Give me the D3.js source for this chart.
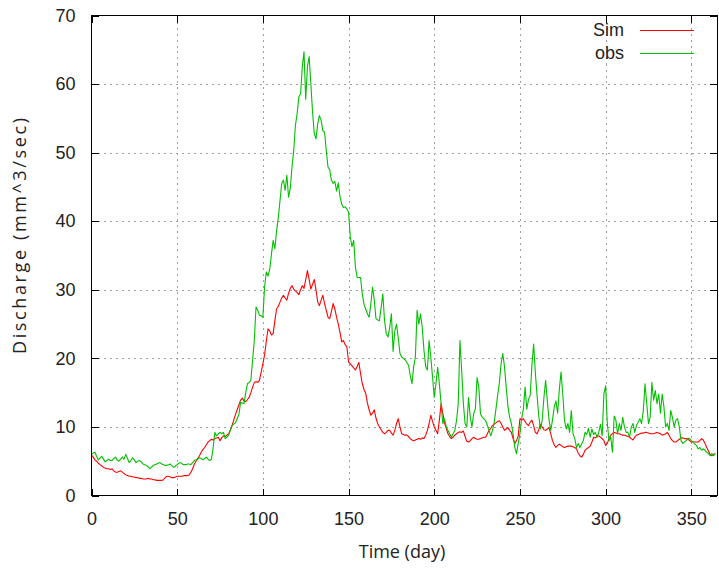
<!DOCTYPE html>
<html>
<head>
<meta charset="utf-8">
<script src="https://cdn.jsdelivr.net/npm/d3@7"></script>
<style>
  html, body { margin: 0; padding: 0; background: #fff; }
  svg { display: block; font-family: "Liberation Sans", Arial, sans-serif; }
</style>
</head>
<body>
<svg id="chart" width="719" height="569"></svg>
<script>
// Daily discharge, simulated vs observed (mm^3/sec), days 0..364
const simValues = [
  5.9, 5.6, 5.2, 5.0, 4.7, 4.5, 4.3, 4.1, 4.0, 3.9,
  3.9, 3.8, 3.9, 3.6, 3.4, 3.4, 3.5, 3.6, 3.4, 3.2,
  3.0, 2.9, 2.8, 2.8, 2.7, 2.7, 2.6, 2.6, 2.5, 2.5,
  2.4, 2.4, 2.4, 2.5, 2.4, 2.4, 2.3, 2.3, 2.2, 2.2,
  2.2, 2.2, 2.3, 2.6, 2.8, 2.8, 2.7, 2.6, 2.6, 2.7,
  2.8, 2.8, 2.8, 2.8, 2.9, 2.9, 2.9, 3.0, 3.4, 3.9,
  4.6, 5.0, 5.4, 5.8, 6.3, 6.7, 7.0, 7.4, 7.8, 8.0,
  8.2, 8.1, 8.3, 8.4, 8.5, 8.0, 8.4, 8.7, 8.6, 8.8,
  9.0, 9.5, 10.2, 11.0, 11.8, 12.5, 13.2, 13.9, 14.2, 13.8,
  13.7, 14.0, 14.3, 15.0, 15.8, 16.5, 16.6, 16.5, 16.8, 18.0,
  19.2, 20.5, 22.5, 24.3, 24.0, 23.4, 23.6, 25.5, 27.2, 27.6,
  28.2, 28.8, 29.2, 28.8, 28.5, 29.5, 30.2, 30.6, 30.1, 29.8,
  29.6, 29.3, 30.0, 30.6, 30.2, 31.5, 32.8, 31.5, 30.1, 30.8,
  31.5, 30.0, 28.2, 27.7, 28.5, 29.2, 28.0, 27.0, 26.0, 25.8,
  26.8, 28.0, 27.2, 26.0, 25.0, 23.8, 22.4, 22.6, 22.0, 21.7,
  19.5, 19.2, 18.9, 18.6, 18.3, 18.8, 19.4, 17.8, 16.3, 15.5,
  14.9, 13.5, 12.5, 11.7, 12.0, 12.5, 11.3, 10.5, 10.0, 9.6,
  9.2, 9.0, 9.2, 9.5, 9.5, 9.1, 8.8, 9.5, 10.5, 11.2,
  10.0, 9.0, 8.9, 8.8, 8.8, 8.6, 8.3, 8.1, 8.0, 8.1,
  8.2, 8.3, 8.2, 8.4, 8.3, 8.8, 9.5, 10.5, 11.7, 10.8,
  10.0, 9.5, 9.0, 11.0, 13.4, 12.0, 10.6, 9.8, 9.0, 8.6,
  8.3, 8.5, 8.8, 9.0, 9.2, 9.3, 9.2, 9.4, 8.6, 7.9,
  7.8, 8.0, 8.3, 8.5, 8.3, 8.2, 8.2, 8.3, 8.4, 8.5,
  8.5, 9.0, 9.5, 9.8, 10.2, 10.4, 10.6, 10.8, 10.9, 10.5,
  10.0, 9.5, 9.7, 9.9, 9.5, 9.2, 8.3, 7.6, 8.0, 8.7,
  11.2, 11.0, 11.2, 10.8, 10.4, 10.2, 10.7, 11.0, 10.2, 9.2,
  9.0, 9.6, 10.4, 10.0, 9.6, 9.5, 9.7, 9.9, 9.0, 8.0,
  7.4, 7.0, 7.3, 7.5, 7.3, 7.1, 7.0, 7.1, 7.2, 7.2,
  7.2, 7.1, 7.0, 6.8, 6.2, 5.8, 5.6, 6.0, 6.6, 6.8,
  7.0, 7.2, 7.8, 8.5, 8.4, 8.6, 8.7, 8.5, 8.3, 8.0,
  7.3, 7.6, 8.3, 8.8, 9.0, 9.2, 9.1, 9.0, 9.0, 8.9,
  8.8, 8.8, 8.7, 8.6, 8.5, 8.3, 8.1, 8.5, 8.8, 8.9,
  9.0, 9.1, 9.1, 9.2, 9.2, 9.1, 9.0, 9.0, 9.0, 9.1,
  9.2, 9.1, 9.0, 8.8, 8.9, 9.0, 9.2, 8.8, 8.3, 8.0,
  7.8, 7.8, 8.0, 8.2, 8.4, 8.4, 8.3, 8.3, 8.2, 8.0,
  7.8, 7.8, 7.8, 7.8, 7.8, 8.0, 8.3, 8.1, 7.6, 7.0,
  6.5, 6.0, 5.8, 6.0, 6.1
];

const obsValues = [
  6.0, 6.2, 6.3, 5.7, 5.2, 5.5, 5.7, 5.3, 4.9, 5.1,
  5.3, 5.1, 5.1, 5.4, 5.6, 5.2, 5.0, 5.3, 5.6, 5.3,
  6.0, 5.4, 4.8, 5.1, 5.5, 5.2, 4.8, 5.0, 5.1, 4.9,
  4.6, 4.5, 4.4, 4.2, 3.9, 4.1, 4.4, 4.5, 4.6, 4.7,
  4.8, 4.6, 4.5, 4.4, 4.4, 4.5, 4.6, 4.3, 4.1, 4.3,
  4.5, 4.7, 4.8, 4.6, 4.5, 4.5, 4.6, 4.6, 4.5, 4.8,
  5.1, 5.2, 5.3, 5.5, 5.4, 5.2, 5.4, 5.6, 5.3, 5.1,
  5.3, 7.0, 9.2, 8.7, 9.0, 9.2, 9.0, 9.2, 8.3, 8.5,
  8.8, 9.5, 10.2, 10.4, 10.6, 11.2, 11.8, 13.6, 13.5, 13.4,
  15.0, 16.3, 16.5, 16.8, 19.7, 22.6, 27.5, 27.0, 26.3, 26.2,
  26.0, 30.4, 32.6, 32.0, 33.0, 35.2, 37.2, 36.0, 38.6, 40.5,
  43.0, 45.5, 46.0, 44.5, 46.7, 43.5, 44.8, 47.9, 50.3, 54.0,
  55.7, 58.1, 58.6, 62.5, 64.7, 57.8, 62.5, 64.0, 60.0, 55.9,
  52.8, 52.0, 54.2, 55.4, 54.7, 53.2, 53.0, 50.3, 47.9, 47.5,
  46.0, 45.5, 45.8, 44.4, 45.6, 43.6, 42.5, 42.0, 42.1, 41.8,
  41.3, 37.7, 36.3, 37.2, 33.3, 31.8, 31.8, 31.8, 29.4, 27.9,
  27.2, 26.5, 26.0, 27.9, 30.4, 28.5, 25.8, 25.6, 25.5, 27.4,
  29.4, 25.5, 23.6, 23.1, 24.5, 26.5, 21.0, 24.0, 25.0, 23.0,
  20.7, 20.2, 20.0, 19.8, 19.4, 19.0, 17.5, 16.3, 18.8, 20.2,
  27.0, 25.0, 26.5, 24.5, 21.2, 18.8, 18.3, 22.6, 20.2, 17.3,
  14.3, 16.3, 18.7, 16.3, 13.4, 10.5, 11.2, 10.0, 9.5, 9.0,
  8.5, 9.0, 9.5, 10.9, 13.4, 22.6, 18.3, 13.4, 10.5, 10.0,
  14.3, 11.5, 10.0, 11.9, 12.6, 17.2, 15.8, 11.9, 11.4, 11.2,
  10.9, 10.2, 9.5, 8.7, 9.5, 10.7, 12.6, 14.6, 16.4, 19.2,
  20.7, 18.8, 15.8, 13.0, 11.4, 10.5, 9.0, 7.0, 6.1, 7.6,
  9.0, 11.2, 12.6, 15.8, 12.6, 14.0, 14.6, 19.0, 22.1, 17.9,
  14.6, 11.6, 9.7, 11.0, 14.3, 16.8, 13.8, 11.0, 9.5, 11.0,
  12.9, 13.8, 12.0, 15.5, 18.0, 14.8, 11.0, 9.7, 10.5, 9.2,
  12.4, 9.0, 8.3, 7.0, 7.6, 7.0, 7.5, 8.0, 9.2, 8.9,
  9.8, 8.5, 9.7, 8.9, 9.2, 8.5, 9.2, 10.4, 8.7, 14.8,
  16.0, 10.5, 8.0, 8.5, 6.3, 11.6, 11.0, 9.0, 10.5, 9.5,
  11.4, 10.0, 9.2, 9.2, 8.5, 10.0, 10.5, 9.2, 10.2, 10.7,
  11.2, 10.5, 12.4, 16.3, 13.4, 10.5, 11.4, 16.5, 13.9, 15.3,
  13.4, 14.8, 12.0, 14.8, 13.0, 10.0, 10.5, 9.5, 12.4, 11.4,
  10.0, 11.0, 11.2, 10.0, 8.0, 7.6, 7.8, 8.0, 8.3, 8.3,
  8.0, 7.8, 7.5, 7.3, 6.8, 7.0, 6.6, 6.8, 6.6, 6.3,
  6.1, 5.8, 6.1, 5.8, 6.1
];

const seriesNames = ["Sim", "obs"];
const seriesColors = ["#ff0000", "#00c000"];
const xTicks = [0, 50, 100, 150, 200, 250, 300, 350];
const yTicks = [0, 10, 20, 30, 40, 50, 60, 70];
const xTitle = "Time (day)";
const yTitle = "Discharge (mm^3/sec)";

const svg = d3.select("#chart");
const plotLeft = 91.5, plotRight = 717, plotTop = 15.5, plotBottom = 495.5;
const labelFont = "'Liberation Sans', Arial, sans-serif";
const titleFont = "'Open Sans', 'DejaVu Sans', sans-serif";

const x = d3.scaleLinear().domain([0, 365]).range([plotLeft, plotRight]);
const y = d3.scaleLinear().domain([0, 70]).range([plotBottom, plotTop]);

// dotted grid
const grid = svg.append("g")
  .attr("stroke", "#a0a0a0")
  .attr("stroke-width", 1)
  .attr("stroke-dasharray", "2,4")
  .attr("shape-rendering", "crispEdges");
xTicks.filter(t => t > 0).forEach(t => {
  grid.append("line").attr("x1", Math.round(x(t)) + 0.5).attr("x2", Math.round(x(t)) + 0.5)
    .attr("y1", plotTop).attr("y2", plotBottom);
});
yTicks.filter(t => t > 0 && t < 70).forEach(t => {
  grid.append("line").attr("x1", plotLeft).attr("x2", plotRight)
    .attr("y1", Math.round(y(t)) + 0.5).attr("y2", Math.round(y(t)) + 0.5);
});

// axes with inward ticks, mirrored on top and right
const tickLen = 7;
const xAxisB = d3.axisBottom(x).tickValues(xTicks).tickSize(-tickLen).tickPadding(17);
const yAxisL = d3.axisLeft(y).tickValues(yTicks).tickSize(-tickLen).tickPadding(16);
const xAxisT = d3.axisTop(x).tickValues(xTicks).tickSize(-tickLen).tickFormat("");
const yAxisR = d3.axisRight(y).tickValues(yTicks).tickSize(-tickLen).tickFormat("");

function styleAxis(g) {
  g.select(".domain").remove();
  g.selectAll(".tick line").attr("stroke", "#000").attr("shape-rendering", "crispEdges");
  g.selectAll(".tick text").attr("fill", "#222").style("font-size", "18px")
    .style("font-family", labelFont);
}
svg.append("g").attr("transform", `translate(0,${plotBottom})`).call(xAxisB).call(styleAxis);
svg.append("g").attr("transform", `translate(${plotLeft},0)`).call(yAxisL).call(styleAxis);
svg.append("g").attr("transform", `translate(0,${plotTop})`).call(xAxisT).call(styleAxis);
svg.append("g").attr("transform", `translate(${plotRight},0)`).call(yAxisR).call(styleAxis);

// lines
const line = d3.line().x((d, i) => x(i)).y(d => y(d));
[simValues, obsValues].forEach((vals, k) => {
  svg.append("path").datum(vals)
    .attr("fill", "none")
    .attr("stroke", seriesColors[k])
    .attr("stroke-width", 1.1)
    .attr("stroke-linejoin", "round")
    .attr("d", line);
});

// border
svg.append("rect").attr("x", plotLeft).attr("y", plotTop)
  .attr("width", plotRight - plotLeft).attr("height", plotBottom - plotTop)
  .attr("fill", "none").attr("stroke", "#000").attr("stroke-width", 1)
  .attr("shape-rendering", "crispEdges");

// legend
const legend = svg.append("g");
seriesNames.forEach((name, k) => {
  const ly = 30 + k * 23;
  legend.append("text").attr("x", 624).attr("y", ly).attr("dy", "0.35em")
    .attr("text-anchor", "end").style("font-size", "18px").style("font-family", labelFont)
    .attr("fill", "#222").text(name);
  legend.append("line").attr("x1", 640).attr("x2", 694).attr("y1", ly + 0.5).attr("y2", ly + 0.5)
    .attr("stroke", seriesColors[k]).attr("stroke-width", 1.1);
});

// axis titles
svg.append("text").attr("x", 402).attr("y", 558)
  .attr("text-anchor", "middle").style("font-size", "18px").style("font-family", titleFont)
  .attr("fill", "#222").text(xTitle);
svg.append("text").attr("transform", `translate(20,236) rotate(-90)`)
  .attr("dy", "0.35em").attr("text-anchor", "middle")
  .attr("textLength", 236).attr("lengthAdjust", "spacing")
  .style("font-size", "18px").style("font-family", titleFont)
  .attr("fill", "#222").text(yTitle);
</script>
</body>
</html>
